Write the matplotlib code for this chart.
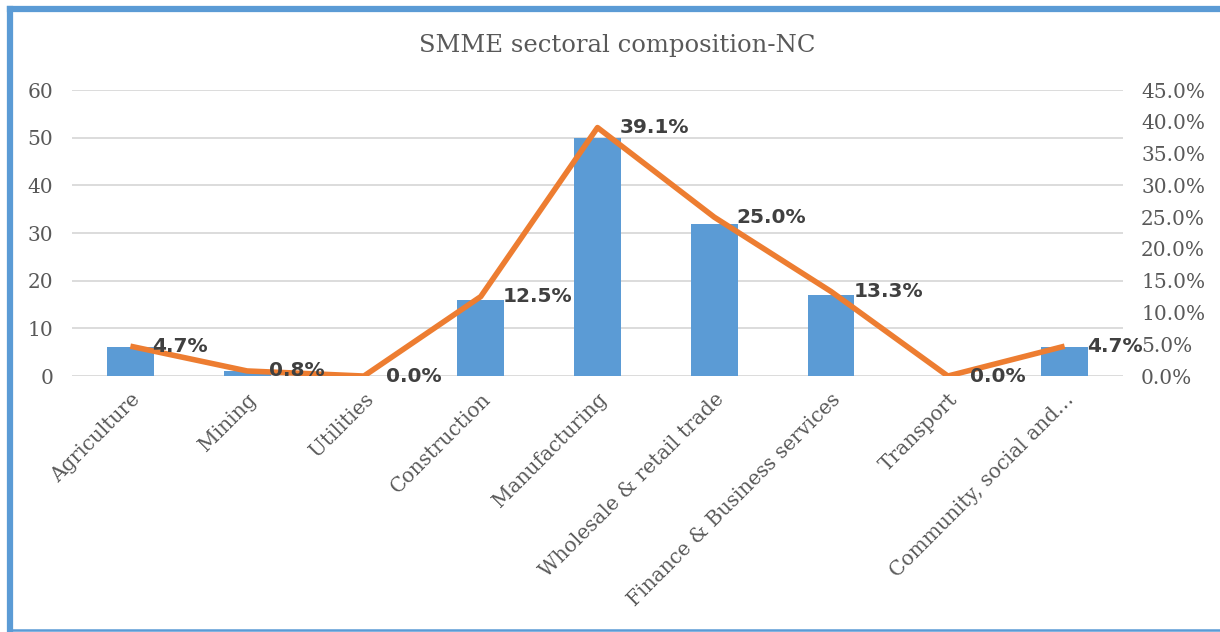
import matplotlib.pyplot as plt
from matplotlib.lines import Line2D
from matplotlib.ticker import FuncFormatter
import numpy as np

# données
sectors = ["Agriculture", "Mining", "Utilities", "Construction", "Manufacturing",
           "Wholesale & retail trade", "Finance & Business services", "Transport",
           "Community, social and…"]
counts = [6, 1, 0, 16, 50, 32, 17, 0, 6]
shares = [0.047, 0.008, 0.0, 0.125, 0.391, 0.250, 0.133, 0.0, 0.047]

blue = "#5B9BD5"
orange = "#ED7D31"
grey = "#595959"

fig = plt.figure(figsize=(12.2, 6.32), dpi=100)
ax = fig.add_axes([0.059, 0.405, 0.8615, 0.4525])
ax2 = ax.twinx()

x = np.arange(len(sectors))
ax.bar(x, counts, width=0.4, color=blue, zorder=2)
ax2.plot(x, shares, color=orange, lw=4, solid_capstyle="butt", zorder=3)

for xi, s in zip(x, shares):
    ax2.annotate(f"{s:.1%}", (xi, s), xytext=(16, 0), textcoords="offset points",
                 ha="left", va="center", fontsize=14.5, fontweight="bold",
                 color="#404040", family="DejaVu Sans")

ax.set_xlim(-0.5, len(sectors) - 0.5)
ax.set_ylim(0, 60)
ax.set_yticks(range(0, 61, 10))
ax2.set_ylim(0, 0.45)
ax2.set_yticks(np.arange(0, 0.451, 0.05))
ax2.yaxis.set_major_formatter(FuncFormatter(lambda v, _: f"{v:.1%}"))

ax.grid(axis="y", color="#D9D9D9", lw=1.3, zorder=0)
ax.set_axisbelow(True)
for a in (ax, ax2):
    for sp in a.spines.values():
        sp.set_visible(False)
    a.tick_params(length=0, labelsize=14.5, labelcolor=grey)
    for lab in a.get_yticklabels():
        lab.set_family("DejaVu Serif")
ax.tick_params(axis="y", pad=13.5)
ax2.tick_params(axis="y", pad=13)

ax.set_xticks(x)
ax.set_xticklabels(sectors, rotation=45, ha="right", rotation_mode="anchor",
                   family="DejaVu Serif", fontsize=14.5, color=grey)
ax.tick_params(axis="x", pad=10)

fig.text(0.506, 0.928, "SMME sectoral composition-NC", ha="center", va="center",
         family="DejaVu Serif", fontsize=17.5, color=grey)

# cadre bleu : gauche et haut épais, bas fin
fig.add_artist(Line2D([0.0082, 0.0082], [0.0, 0.9865], transform=fig.transFigure,
                      color=blue, lw=4.5, solid_capstyle="projecting"))
fig.add_artist(Line2D([0.0082, 1.0], [0.9865, 0.9865], transform=fig.transFigure,
                      color=blue, lw=4.5, solid_capstyle="projecting"))
fig.add_artist(Line2D([0.0082, 1.0], [0.003, 0.003], transform=fig.transFigure,
                      color=blue, lw=1.8))

fig.savefig("out.png", dpi=100)
